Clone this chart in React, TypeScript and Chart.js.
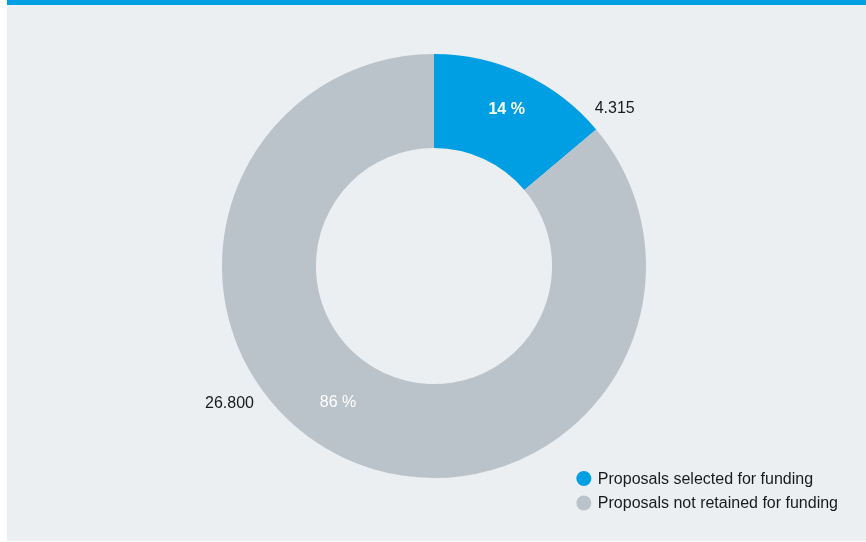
import React, { useEffect, useRef } from "react";
import { Chart, registerables } from "chart.js";

Chart.register(...registerables);

const categories = ["Proposals selected for funding", "Proposals not retained for funding"];
const proposalCounts = [4315, 26800];
const sliceColors = ["#009fe3", "#b9c3c9"];
// label placement: fraction along each arc and radius as fraction of outer radius
const pctAngleFrac = [0.497, 0.533];
const pctRadiusFrac = [0.817, 0.785];
const valAngleFrac = [0.975, 0.601];
const valRadiusFrac = [1.135, 1.16];
const pctFontWeight = ["bold", "normal"];

const FONT = "'Liberation Sans', Arial, Helvetica, sans-serif";

function formatThousands(v: number): string {
  const s = String(Math.round(v));
  return s.replace(/\B(?=(\d{3})+(?!\d))/g, ".");
}

const labelPlugin = {
  id: "sliceLabels",
  afterDatasetsDraw(chart: any) {
    const ctx = chart.ctx;
    const meta = chart.getDatasetMeta(0);
    const data = chart.data.datasets[0].data as number[];
    const total = data.reduce((a, b) => a + b, 0);
    ctx.save();
    meta.data.forEach((arc: any, i: number) => {
      const p = arc.getProps(["x", "y", "startAngle", "endAngle", "outerRadius"], true);
      const span = p.endAngle - p.startAngle;
      const aPct = p.startAngle + span * pctAngleFrac[i];
      const rPct = p.outerRadius * pctRadiusFrac[i];
      const aVal = p.startAngle + span * valAngleFrac[i];
      const rVal = p.outerRadius * valRadiusFrac[i];
      ctx.textAlign = "center";
      ctx.textBaseline = "middle";
      ctx.fillStyle = "#ffffff";
      ctx.font = `${pctFontWeight[i]} 16px ${FONT}`;
      ctx.fillText(
        Math.round((data[i] / total) * 100) + " %",
        p.x + Math.cos(aPct) * rPct,
        p.y + Math.sin(aPct) * rPct + 1
      );
      ctx.fillStyle = "#1a1a1a";
      ctx.font = `normal 16px ${FONT}`;
      ctx.fillText(formatThousands(data[i]), p.x + Math.cos(aVal) * rVal, p.y + Math.sin(aVal) * rVal + 1);
    });
    ctx.restore();
  },
};

const legendPlugin = {
  id: "customLegend",
  afterDraw(chart: any) {
    const ctx = chart.ctx;
    const labels = chart.data.labels as string[];
    const colors = chart.data.datasets[0].backgroundColor as string[];
    ctx.save();
    ctx.font = `normal 16px ${FONT}`;
    const maxW = Math.max(...labels.map((l) => ctx.measureText(l).width));
    const textX = chart.width - 28 - maxW;
    const rowH = 24.5;
    const lastY = chart.height - 39;
    labels.forEach((l, i) => {
      const y = lastY - (labels.length - 1 - i) * rowH;
      ctx.beginPath();
      ctx.fillStyle = colors[i];
      ctx.arc(textX - 14, y, 7.5, 0, Math.PI * 2);
      ctx.fill();
      ctx.fillStyle = "#1a1a1a";
      ctx.textAlign = "left";
      ctx.textBaseline = "middle";
      ctx.fillText(l, textX, y + 1);
    });
    ctx.restore();
  },
};

export default function App() {
  const ref = useRef<HTMLCanvasElement | null>(null);
  useEffect(() => {
    if (!ref.current) return;
    const chart = new Chart(ref.current, {
      type: "doughnut",
      data: {
        labels: categories,
        datasets: [
          {
            data: proposalCounts,
            backgroundColor: sliceColors,
            borderWidth: 0,
            hoverOffset: 0,
          },
        ],
      },
      options: {
        responsive: false,
        animation: false,
        cutout: "55.7%",
        layout: { padding: { left: 2, right: 0, top: 54, bottom: 64 } },
        plugins: {
          legend: { display: false },
          tooltip: { enabled: false },
        },
      },
      plugins: [labelPlugin, legendPlugin],
    });
    return () => chart.destroy();
  }, []);

  return (
    <div style={{ position: "fixed", left: 0, top: 0, width: 866, height: 542, background: "#ffffff" }}>
      <div
        style={{
          position: "absolute",
          left: 7,
          top: 0,
          width: 859,
          height: 541,
          background: "#ebeff2",
          borderTop: "5px solid #009fe3",
          boxSizing: "border-box",
        }}
      />
      <canvas ref={ref} width={866} height={542} style={{ position: "absolute", left: 0, top: 0 }} />
    </div>
  );
}
